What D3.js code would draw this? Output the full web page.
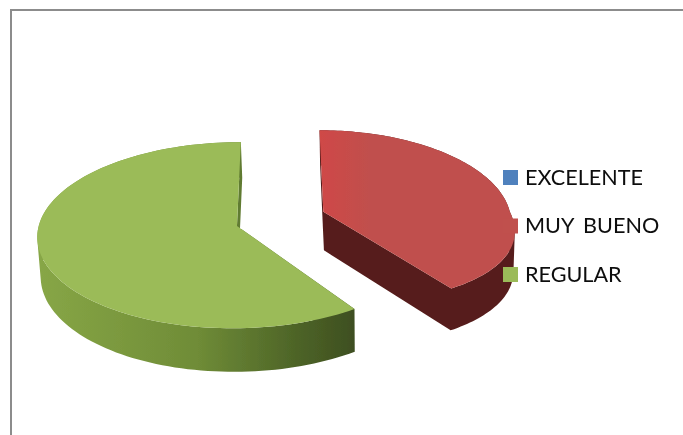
<!DOCTYPE html>
<html>
<head>
<meta charset="utf-8">
<script src="https://d3js.org/d3.v7.min.js"></script>
<style>
html, body { margin: 0; padding: 0; background: #fff; }
svg { display: block; }
text { font-family: Lato, "Open Sans", sans-serif; font-size: 21.6px; fill: #0a0a0a; word-spacing: 4px; }
</style>
</head>
<body>
<svg id="chart" width="683" height="435"></svg>
<script>
// DATA
var categories = ['EXCELENTE', 'MUY BUENO', 'REGULAR'];
var shares = [0, 40.5, 59.5];
var topColors = ['#4F81BD', '#C0504D', '#9BBB59'];
var sideColors = ['#27405e', '#561d1b', '#6c8a35'];

var svg = d3.select('#chart');
var defs = svg.append('defs');

// frame, only top and left show up in the crop
svg.append('path')
    .attr('d', 'M11,435V10H683')
    .attr('fill', 'none')
    .attr('stroke', '#8c8c8c')
    .attr('stroke-width', 2);

// slight blur, the original is a scaled up screenshot
defs.append('filter').attr('id', 'soft')
    .append('feGaussianBlur').attr('stdDeviation', 0.6);
defs.append('filter').attr('id', 'softText')
    .append('feGaussianBlur').attr('stdDeviation', 0.25);

// green wall goes dark to the right
var greenSide = defs.append('linearGradient').attr('id', 'greenSide')
    .attr('gradientUnits', 'userSpaceOnUse')
    .attr('x1', 40).attr('x2', 354).attr('y1', 0).attr('y2', 0);
[[0, '#87a646'], [0.5, '#6f8c37'], [0.8, '#4f6628'], [1, '#3e4f20']].forEach(function(s){
    greenSide.append('stop').attr('offset', s[0]).attr('stop-color', s[1]);
});

// red top is a bit brighter at its left edge
var redTop = defs.append('linearGradient').attr('id', 'redTop')
    .attr('gradientUnits', 'userSpaceOnUse')
    .attr('x1', 320).attr('x2', 370).attr('y1', 0).attr('y2', 0);
[[0, '#cf4847'], [1, '#C0504D']].forEach(function(s){
    redTop.append('stop').attr('offset', s[0]).attr('stop-color', s[1]);
});

// perspective of the tilted disc
var vanishX = 280, horizonY = 220, radiusX = 197, radiusY = 91, tilt = 0.098, depth = 39;

function project(x, y, low) {
    var w = 1 - tilt * y;
    var sx = vanishX + radiusX * x / w;
    var sy = horizonY + radiusY * y / w;
    if (low) {
        sy += depth / w;
        sx = 380 + (sx - 380) * 0.99;
    }
    return [sx, sy];
}

var pie = d3.pie().sort(null).value(function(d){ return d; });
var arcs = pie(shares);
var line = d3.line();

function outline(a) {
    // middle angle decides which way the slice was pulled out
    var right = Math.sin((a.startAngle + a.endAngle) / 2) > 0;
    var cx = right ? 0.222 : -0.217;
    var cy = right ? -0.092 : 0.0655;
    var pts = [[cx, cy]];
    d3.range(0, 121).forEach(function(k){
        var t = a.startAngle + (a.endAngle - a.startAngle) * k / 120;
        var low = Math.max(0, -Math.cos(t));
        // red one comes out narrower on top and shorter at the near end in the picture
        var wide = right ? 0.955 + 0.11 * low : 1;
        var tall = right ? 1 - 0.05 * low : 1;
        pts.push([cx + wide * Math.sin(t), cy - tall * Math.cos(t)]);
    });
    return pts;
}

var g = svg.append('g').attr('filter', 'url(#soft)');

arcs.forEach(function(a, i){
    if (a.value === 0) return;
    var pts = outline(a);
    // walls: all quads in one path so there are no seams between them
    var d = '';
    pts.forEach(function(p, k){
        var q = pts[(k + 1) % pts.length];
        var quad = [
            project(p[0], p[1]), project(q[0], q[1]),
            project(q[0], q[1], true), project(p[0], p[1], true)
        ];
        if (d3.polygonArea(quad) < 0) quad.reverse(); // same winding or overlaps cancel out
        d += line(quad) + 'Z';
    });
    g.append('path')
        .attr('d', d)
        .attr('fill', i === 2 ? 'url(#greenSide)' : sideColors[i]);
});

arcs.forEach(function(a, i){
    if (a.value === 0) return;
    var pts = outline(a).map(function(p){ return project(p[0], p[1]); });
    g.append('path')
        .attr('d', line(pts) + 'Z')
        .attr('fill', i === 1 ? 'url(#redTop)' : topColors[i]);
});

// LEGEND
var legendY = d3.scalePoint().domain(categories).range([177.5, 274.5]);
var legend = svg.append('g').selectAll('g').data(categories).enter().append('g')
    .attr('transform', function(d){ return 'translate(503,' + legendY(d) + ')'; });
legend.append('rect')
    .attr('x', 0).attr('y', -7.5).attr('width', 15).attr('height', 15)
    .attr('fill', function(d, i){ return topColors[i]; });
legend.append('text')
    .attr('x', 22).attr('y', 7.3)
    .attr('filter', 'url(#softText)')
    .text(function(d){ return d; });
</script>
</body>
</html>
